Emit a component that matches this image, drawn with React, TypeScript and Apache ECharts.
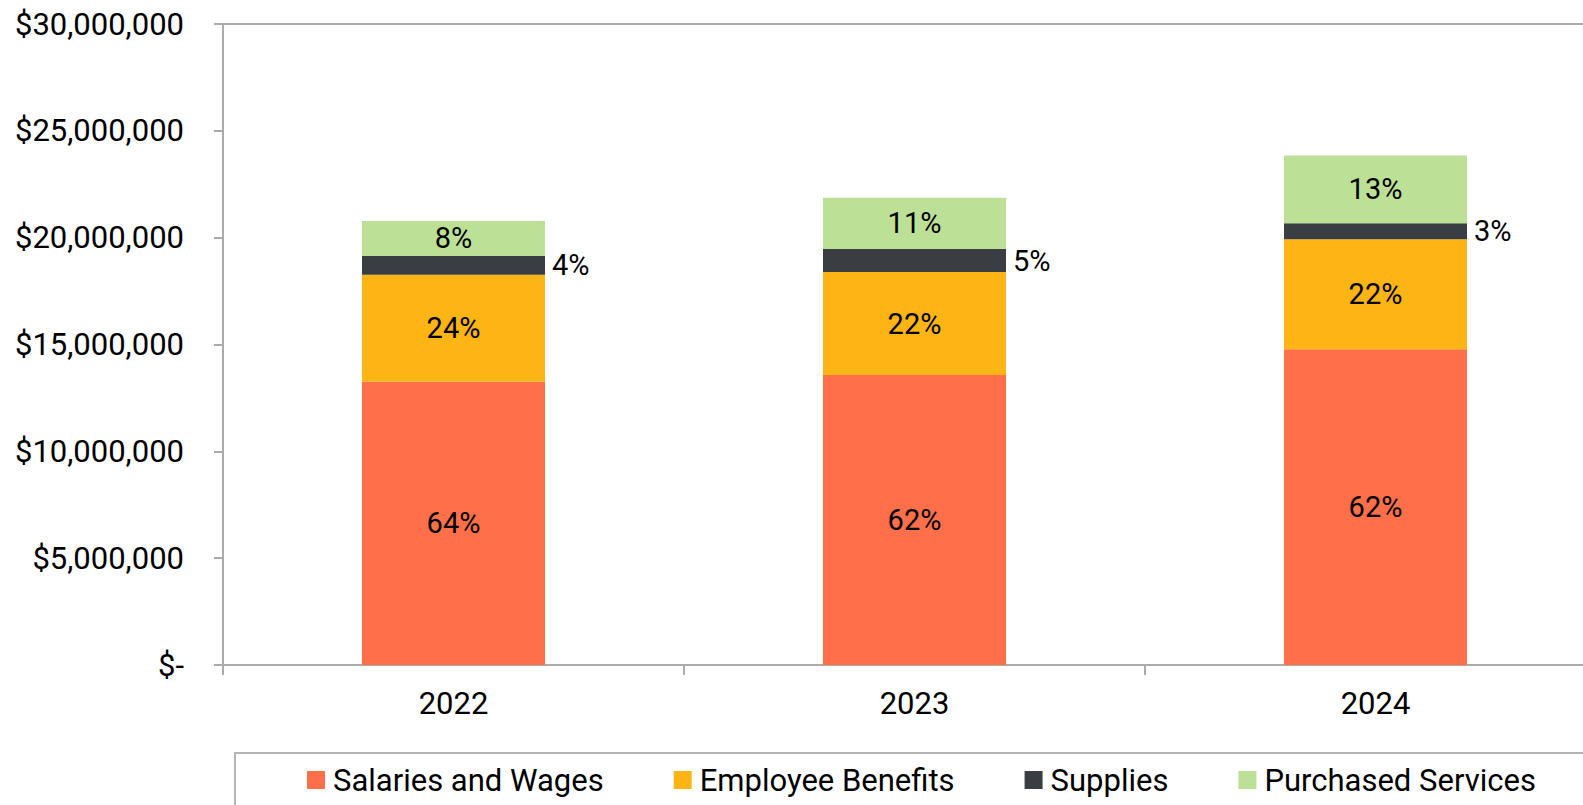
import React, { useEffect, useRef } from "react";
import * as echarts from "echarts";

const years = ["2022", "2023", "2024"];
const salaries = [13260000, 13570000, 14780000];
const benefits = [5010000, 4820000, 5150000];
const supplies = [875000, 1080000, 750000];
const purchased = [1640000, 2400000, 3170000];
const seriesNames = ["Salaries and Wages", "Employee Benefits", "Supplies", "Purchased Services"];
const colors = ["#FF6F4A", "#FDB515", "#3A3D42", "#BDE097"];
const yTicks = { min: 0, max: 30000000, interval: 5000000 };

const FONT = "Roboto";
const FS = 29;
const AFS = 31;

export default function App() {
  const ref = useRef<HTMLDivElement>(null);
  useEffect(() => {
    document.body.style.margin = "0";
    const chart = echarts.init(ref.current!, null, { renderer: "svg" });
    const totals = years.map((_, i) => salaries[i] + benefits[i] + supplies[i] + purchased[i]);
    const pct = (p: any) => Math.round((p.value / totals[p.dataIndex]) * 100) + "%";
    const allData = [salaries, benefits, supplies, purchased];
    const series = allData.map((d, k) => ({
      name: seriesNames[k],
      type: "bar",
      stack: "total",
      barWidth: 183,
      data: d,
      itemStyle: { color: colors[k] },
      label: {
        show: true,
        position: k === 2 ? "right" : "inside",
        distance: 7,
        formatter: pct,
        color: "#000",
        fontFamily: FONT,
        fontSize: FS,
      },
    }));
    chart.setOption({
      animation: false,
      textStyle: { fontFamily: FONT },
      grid: { left: 223, right: 0, top: 24, bottom: 140, containLabel: false },
      xAxis: [
        {
          type: "category",
          data: years,
          position: "bottom",
          axisLine: { show: true, lineStyle: { color: "#ABABAB", width: 2 } },
          axisTick: { show: true, length: 10, alignWithLabel: false, lineStyle: { color: "#ABABAB", width: 2 } },
          axisLabel: { color: "#000", fontFamily: FONT, fontSize: AFS, margin: 23 },
        },
        {
          type: "category",
          data: years,
          position: "top",
          axisLine: { show: true, lineStyle: { color: "#ABABAB", width: 2 } },
          axisTick: { show: false },
          axisLabel: { show: false },
        },
      ],
      yAxis: {
        type: "value",
        min: yTicks.min,
        max: yTicks.max,
        interval: yTicks.interval,
        axisLine: { show: true, lineStyle: { color: "#ABABAB", width: 2 } },
        axisTick: { show: true, length: 9, lineStyle: { color: "#ABABAB", width: 2 } },
        splitLine: { show: false },
        axisLabel: {
          color: "#000",
          fontFamily: FONT,
          fontSize: AFS,
          margin: 39,
          formatter: (v: number) => (v === 0 ? "$-" : "$" + v.toLocaleString("en-US")),
        },
      },
      legend: {
        data: seriesNames,
        left: 307,
        top: 762,
        padding: 0,
        itemGap: 70,
        itemWidth: 18,
        itemHeight: 18,
        icon: "rect",
        textStyle: { color: "#000", fontFamily: FONT, fontSize: AFS, lineHeight: 36, padding: [0, 0, 0, 3] },
      },
      graphic: [
        {
          type: "rect",
          shape: { x: 235, y: 753, width: 1400, height: 100 },
          style: { fill: "none", stroke: "#B5B5B5", lineWidth: 2 },
          silent: true,
        },
      ],
      series,
    });
    return () => chart.dispose();
  }, []);
  return (
    <div style={{ position: "fixed", left: 0, top: 0, width: 1583, height: 805, overflow: "hidden", background: "#fff" }}>
      <div ref={ref} style={{ width: 1606, height: 805 }} />
    </div>
  );
}
